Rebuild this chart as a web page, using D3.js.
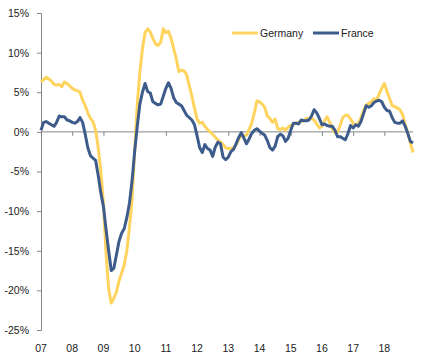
<!DOCTYPE html>
<html>
<head>
<meta charset="utf-8">
<script src="https://cdn.jsdelivr.net/npm/d3@7"></script>
<style>
  html, body { margin: 0; padding: 0; background: #fff; }
  svg { display: block; }
  text { font-family: "Liberation Sans", Arial, sans-serif; fill: #1a1a1a; }
</style>
</head>
<body>
<svg id="chart" width="425" height="364"></svg>
<script>
// Year labels (ticks at the start of each year)
const yearLabels = ["07","08","09","10","11","12","13","14","15","16","17","18"];
const yTicks = [15, 10, 5, 0, -5, -10, -15, -20, -25];
const seriesNames = ["Germany", "France"];

// Monthly values, Jan 2007 - Dec 2018 (% y/y)
const germany = [
  6.3, 6.6, 6.9, 6.7, 6.4, 6.0, 5.9, 6.0, 5.7, 6.3, 6.1, 5.8,
  5.5, 5.3, 5.2, 5.0, 4.0, 3.3, 2.4, 1.7, 1.3, 0.2, -2.0, -5.0,
  -9.0, -15.3, -19.8, -21.6, -21.0, -20.2, -18.8, -17.8, -16.8, -15.0, -12.0, -8.5,
  -2.5, 3.5, 7.5, 10.5, 12.5, 13.0, 12.6, 11.8, 11.1, 10.9, 11.3, 13.0,
  12.5, 12.7, 11.8, 10.5, 9.2, 7.6, 7.8, 7.7, 7.2, 5.8, 4.5, 3.0,
  1.6, 1.1, 1.2, 0.7, 0.3, 0.0, -0.3, -0.7, -1.0, -1.3, -1.6, -2.0,
  -2.1, -2.1, -2.0, -1.6, -1.0, -0.4, -0.5, -0.4, 0.3, 1.1, 2.4, 3.9,
  3.8, 3.5, 3.1, 2.0, 1.7, 1.2, 1.6, 0.4, 0.3, 0.5, 0.2, 0.6,
  0.8, 0.9, 1.1, 1.2, 1.3, 1.4, 1.7, 1.7, 1.7, 1.5, 1.0, 0.5,
  0.7, 1.4, 1.9, 1.2, 0.4, -0.1, 0.0, 0.8, 1.8, 2.1, 2.1, 1.6,
  1.1, 0.9, 1.1, 1.8, 2.7, 3.4, 3.6, 3.8, 4.2, 4.0, 4.8, 5.5,
  6.1, 5.1, 4.2, 3.3, 3.2, 3.0, 2.8, 2.2, 0.9, -0.2, -1.4, -2.6
];
const france = [
  0.2, 1.2, 1.3, 1.1, 0.9, 0.7, 1.2, 2.0, 1.9, 1.9, 1.5, 1.4,
  1.2, 1.1, 1.3, 1.8, 1.2, -0.3, -2.0, -3.0, -3.3, -3.6, -5.5, -7.7,
  -9.4, -12.3, -15.0, -17.5, -17.2, -15.5, -13.8, -12.8, -12.2, -10.8, -9.0, -6.2,
  -2.5, 0.7, 3.5, 5.0, 6.1, 5.1, 4.9, 3.8, 3.6, 3.4, 3.5, 4.5,
  5.5, 6.2, 5.5, 4.3, 3.7, 3.5, 3.3, 2.7, 2.1, 1.8, 1.5, 0.9,
  -0.5, -2.0, -2.6, -1.6, -2.1, -2.3, -3.1, -1.9, -1.3, -1.5, -3.2, -3.5,
  -3.2, -2.5, -2.2, -1.5, -0.7, -0.1, -0.8, -1.5, -0.9, -0.2, 0.2, 0.4,
  0.1, -0.2, -0.4, -1.1, -2.0, -2.3, -1.8, -0.6, -0.3, -0.5, -1.2, -0.8,
  0.2, 1.1, 1.1, 1.0, 1.5, 1.4, 1.4, 1.5, 2.0, 2.8, 2.4, 1.7,
  0.9, 1.0, 0.8, 0.7, 0.7, 0.2, -0.6, -0.6, -0.8, -1.0, -0.2, 0.8,
  0.5, 0.9, 0.7, 1.3, 2.3, 3.3, 3.1, 3.3, 3.7, 3.9, 4.0, 3.8,
  3.1, 2.7, 2.6, 1.8, 1.2, 1.1, 1.1, 1.4, 0.7, -0.2, -1.2, -1.4
];
const colors = ["#FFD45E", "#3D5C8C"];

const svg = d3.select("#chart");
const x = d3.scaleLinear().domain([0, germany.length - 1]).range([41, 413]);
const y = d3.scaleLinear().domain([-25, 15]).range([330, 13]);

// Y axis
const yAxis = d3.axisLeft(y).tickValues(yTicks).tickSize(4).tickPadding(8)
  .tickFormat(d => d + "%");
const gy = svg.append("g").attr("transform", "translate(41,0)").call(yAxis);
gy.select(".domain").attr("stroke", "#868686");
gy.selectAll(".tick line").attr("stroke", "#868686");
gy.selectAll(".tick text").attr("font-size", "10.5px").attr("fill", "#1a1a1a")
  .attr("font-family", "'Liberation Sans', Arial, sans-serif");

// X axis at zero line
const tickIdx = yearLabels.map((d, i) => i * 12);
const xAxis = d3.axisBottom(x).tickValues(tickIdx).tickSize(4).tickFormat("");
const gx = svg.append("g").attr("transform", `translate(0,${y(0)})`).call(xAxis);
gx.select(".domain").attr("stroke", "#868686").attr("d", `M41,0H413`);
gx.selectAll(".tick line").attr("stroke", "#868686");

// Year labels at bottom
svg.append("g").selectAll("text").data(yearLabels).enter().append("text")
  .attr("x", (d, i) => x(i * 12))
  .attr("y", 352)
  .attr("text-anchor", "middle")
  .attr("font-size", "10.5px")
  .text(d => d);

// Lines
const line = d3.line().x((d, i) => x(i)).y(d => y(d)).curve(d3.curveLinear);
[germany, france].forEach((s, k) => {
  svg.append("path").datum(s)
    .attr("fill", "none")
    .attr("stroke", colors[k])
    .attr("stroke-width", 3)
    .attr("stroke-linejoin", "round")
    .attr("stroke-linecap", "butt")
    .attr("d", line);
});

// Legend
const legendX = [232, 313];
seriesNames.forEach((name, k) => {
  const g = svg.append("g").attr("transform", `translate(${legendX[k]},33)`);
  g.append("line").attr("x1", 0).attr("x2", 26).attr("y1", 0).attr("y2", 0)
    .attr("stroke", colors[k]).attr("stroke-width", 3);
  g.append("text").attr("x", 28).attr("y", 3.8).attr("font-size", "10.5px").text(name);
});
</script>
</body>
</html>
